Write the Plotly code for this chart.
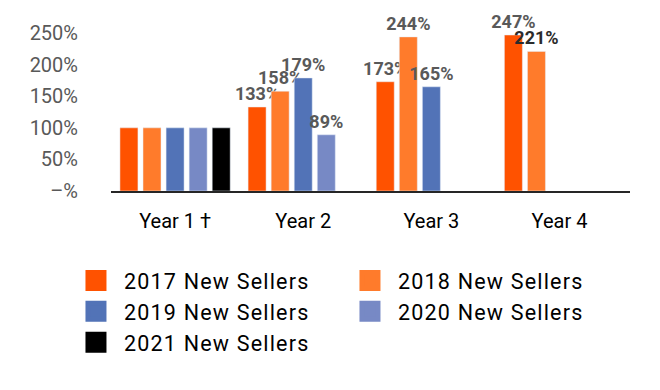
import plotly.graph_objects as go

categories = ["Year 1 †", "Year 2", "Year 3", "Year 4"]
series_names = ["2017 New Sellers", "2018 New Sellers", "2019 New Sellers",
                "2020 New Sellers", "2021 New Sellers"]
values_2017 = [100, 133, 173, 247]
values_2018 = [100, 158, 244, 221]
values_2019 = [100, 179, 165, None]
values_2020 = [100, 89, None, None]
values_2021 = [100, None, None, None]
series_values = [values_2017, values_2018, values_2019, values_2020, values_2021]
colors = ["#FF5200", "#FF7B2B", "#5273B7", "#7789C5", "#000000"]
y_tickvals = [0, 50, 100, 150, 200, 250]
y_ticktext = ["–%", "50%", "100%", "150%", "200%", "250%"]

FONT = "Roboto"
LABEL_GRAY = "#595959"

fig = go.Figure()
for name, vals, col in zip(series_names, series_values, colors):
    texts = []
    tcolors = []
    for i, v in enumerate(vals):
        if v is None or i == 0:
            texts.append("")
        else:
            texts.append(f"{v}%")
        tcolors.append("#2b2b2b" if (name.startswith("2018") and i == 3) else LABEL_GRAY)
    fig.add_trace(go.Bar(
        x=categories, y=vals, name=name, marker_color=col,
        text=texts, textposition="outside", cliponaxis=False,
        constraintext="none",
        textfont=dict(family=FONT, size=18, color=tcolors, weight="bold"),
        showlegend=False, legendgroup=name,
        hovertemplate="%{x}: %{y}%<extra>" + name + "</extra>",
    ))
# legend entries with large square swatches
for name, col in zip(series_names, colors):
    fig.add_trace(go.Scatter(
        x=[None], y=[None], mode="markers",
        name=f"<span style='letter-spacing:1.2px'>{name}</span>",
        legendgroup=name,
        marker=dict(symbol="square", size=16, color=col,
                    line=dict(color=col, width=5)),
        showlegend=True,
    ))

fig.update_layout(
    width=652, height=382,
    margin=dict(l=103, r=30, t=3, b=199),
    paper_bgcolor="white", plot_bgcolor="white",
    barmode="group", bargap=0.1, bargroupgap=0.22,
    font=dict(family=FONT, color="black"),
    showlegend=True,
    legend=dict(
        orientation="h", x=-0.0829, xanchor="left", y=-0.383, yanchor="top",
        font=dict(family=FONT, size=21.5, color="black"),
        itemsizing="trace", itemwidth=46, entrywidth=213, traceorder="normal",
        bgcolor="rgba(0,0,0,0)",
    ),
)
fig.update_xaxes(
    type="category", range=[-0.5, 3.55],
    showline=True, linecolor="#262626", linewidth=2,
    showgrid=False, ticks="", ticklabelstandoff=11,
    tickfont=dict(family=FONT, size=20, color="black"),
    fixedrange=True,
)
fig.update_yaxes(
    range=[0, 285], tickvals=y_tickvals, ticktext=y_ticktext,
    showgrid=False, zeroline=False, showline=False, ticks="",
    ticklabelstandoff=32,
    tickfont=dict(family=FONT, size=20, color=LABEL_GRAY),
    fixedrange=True,
)

fig.write_html("out.html")
